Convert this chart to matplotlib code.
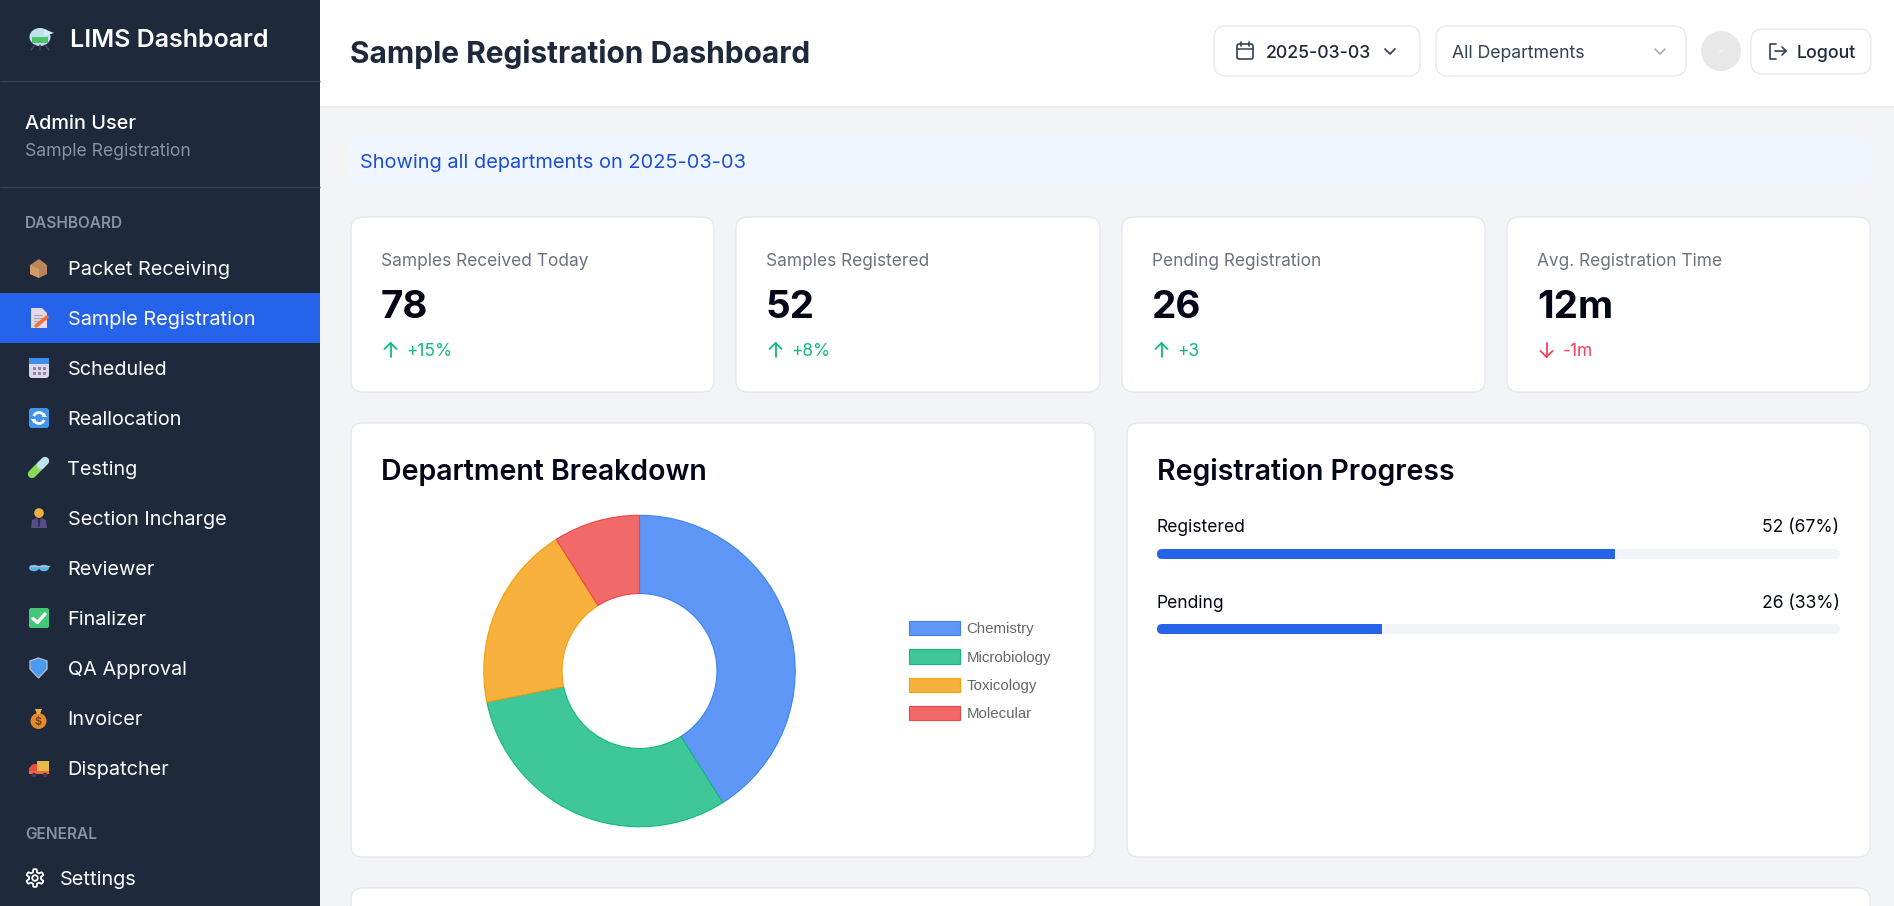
import numpy as np
import matplotlib
matplotlib.use("Agg")
import matplotlib.pyplot as plt
from matplotlib.patches import FancyBboxPatch, Rectangle, Circle, Ellipse, Polygon, Arc

W, H = 1894, 906

# data
departments = ["Chemistry", "Microbiology", "Toxicology", "Molecular"]
dept_counts = [32, 24, 15, 7]
dept_fill = ["#5f97f7", "#3fc799", "#f7b13c", "#f26969"]
dept_edge = ["#3b82f6", "#10b981", "#f59e0b", "#ef4444"]

card_labels = ["Samples Received Today", "Samples Registered", "Pending Registration", "Avg. Registration Time"]
card_values = ["78", "52", "26", "12m"]
card_deltas = ["+15%", "+8%", "+3", "-1m"]
card_up = [True, True, True, False]

progress_labels = ["Registered", "Pending"]
progress_counts = [52, 26]
progress_pct = [67, 33]

nav_items = ["Packet Receiving", "Sample Registration", "Scheduled", "Reallocation", "Testing",
             "Section Incharge", "Reviewer", "Finalizer", "QA Approval", "Invoicer", "Dispatcher"]

plt.rcParams["font.family"] = ["Inter", "DejaVu Sans"]

fig = plt.figure(figsize=(W / 100, H / 100), dpi=100, facecolor="#f3f4f6")
ax = fig.add_axes([0, 0, 1, 1])
ax.set_xlim(0, W)
ax.set_ylim(H, 0)
ax.axis("off")


def txt(x, y, s, px, color="#000000", weight="normal", ha="left"):
    return ax.text(x, y, s, fontsize=px * 0.72, color=color, weight=weight, ha=ha,
                   va="center_baseline", zorder=6)


def box(x0, y0, x1, y1, fc, ec="none", r=12, lw=0.9, z=1):
    p = FancyBboxPatch((x0, y0), x1 - x0, y1 - y0, boxstyle=f"round,pad=0,rounding_size={r}",
                       fc=fc, ec=ec, lw=lw, zorder=z)
    ax.add_patch(p)
    return p


def line(xs, ys, color, lw=1.6, z=4):
    ax.plot(xs, ys, color=color, lw=lw, solid_capstyle="round", solid_joinstyle="round", zorder=z)


def rule(x0, x1, y, color, lw=1):
    ax.plot([x0, x1], [y, y], color=color, lw=lw, solid_capstyle="butt", zorder=2)


# sidebar and header
ax.add_patch(Rectangle((0, 0), 320, H, fc="#1e293b", ec="none", zorder=1))
ax.add_patch(Rectangle((320, 0), W - 320, 106, fc="#ffffff", ec="none", zorder=1))
rule(320, W, 106.5, "#e8eaee", 1.2)
rule(0, 320, 81, "#334155")
rule(0, 320, 187, "#334155")

# logo flask
ax.add_patch(Ellipse((40, 37), 21, 18, fc="#bfe3ea", ec="none", zorder=3))
ax.add_patch(Polygon([(44, 29), (54, 33), (44, 36)], fc="#d5eef2", ec="none", zorder=3))
ax.add_patch(Rectangle((32, 37), 16, 6, fc="#4cc46a", ec="none", zorder=4))
line([35, 31], [45, 50], "#4a3f78", 1.1)
line([45, 49], [45, 50], "#4a3f78", 1.1)
line([40, 40], [45, 50], "#4a3f78", 1.1)
txt(70, 38, "LIMS Dashboard", 25, "#ffffff", "semibold")

txt(25, 122, "Admin User", 19.9, "#ffffff", "medium")
txt(25, 150, "Sample Registration", 17.6, "#8593a8")
txt(25, 222.5, "DASHBOARD", 15.4, "#8593a8", "semibold")
txt(25, 833, "GENERAL", 15.4, "#8593a8", "semibold")

ax.add_patch(Rectangle((0, 293), 320, 50, fc="#2563eb", ec="none", zorder=2))
row_y = [268 + 50 * i for i in range(len(nav_items))]
for name, y in zip(nav_items, row_y):
    txt(67.5, y, name, 19.9, "#ffffff")


# small emoji style icons, one per row
def icon_package(y):
    ax.add_patch(Polygon([(30, y - 3), (39, y - 9), (47, y - 3), (47, y + 6), (39, y + 10), (30, y + 6)], fc="#b9855a", ec="none", zorder=3))
    ax.add_patch(Polygon([(30, y - 3), (39, y + 1), (39, y + 10), (30, y + 6)], fc="#d29a68", ec="none", zorder=4))


def icon_memo(y):
    ax.add_patch(Polygon([(31, y - 10), (42, y - 10), (47, y - 5), (47, y + 10), (31, y + 10)], fc="#e4d9e6", ec="none", zorder=3))
    for k in range(3):
        line([34, 42], [y - 3 + 3 * k, y - 3 + 3 * k], "#b0a6b8", 0.9)
    line([36, 47], [y + 8, y - 1], "#f4703a", 2.6)


def icon_calendar(y):
    box(29, y - 10, 49, y + 10, "#ddd5ea", r=3, z=3)
    ax.add_patch(Rectangle((29, y - 10), 20, 6, fc="#3f8ee8", ec="none", zorder=4))
    for i in range(3):
        for j in range(2):
            ax.add_patch(Rectangle((33 + 5 * i, y - 1 + 4.5 * j), 3, 3, fc="#8d84a8", ec="none", zorder=4))


def icon_realloc(y):
    box(29, y - 10, 49, y + 10, "#3f95ea", r=3, z=3)
    ax.add_patch(Arc((39, y), 11, 11, theta1=200, theta2=340, ec="#ffffff", lw=2, zorder=4))
    ax.add_patch(Arc((39, y), 11, 11, theta1=20, theta2=160, ec="#ffffff", lw=2, zorder=4))
    ax.add_patch(Polygon([(42, y - 1), (47, y - 1), (44.5, y - 5)], fc="#ffffff", ec="none", zorder=4))
    ax.add_patch(Polygon([(31, y + 1), (36, y + 1), (33.5, y + 5)], fc="#ffffff", ec="none", zorder=4))


def icon_tube(y):
    line([32, 41], [y + 6, y - 3], "#8ad85a", 6)
    line([41, 45], [y - 3, y - 7], "#bfe0ef", 6)


def icon_man(y):
    ax.add_patch(Polygon([(31, y + 10), (32, y + 2), (39, y - 1), (46, y + 2), (47, y + 10)], fc="#584c86", ec="none", zorder=3))
    ax.add_patch(Polygon([(37.5, y), (40.5, y), (39.5, y + 9), (38.5, y + 9)], fc="#2e2850", ec="none", zorder=4))
    ax.add_patch(Circle((39, y - 5), 4.8, fc="#eeb13c", ec="none", zorder=4))


def icon_glasses(y):
    ax.add_patch(Ellipse((34, y), 10, 6.5, fc="#56b4f0", ec="none", zorder=3))
    ax.add_patch(Ellipse((44, y), 10, 6.5, fc="#56b4f0", ec="none", zorder=3))
    line([29.5, 48.5], [y - 2.5, y - 2.5], "#b9c4ce", 1)


def icon_check(y):
    box(29, y - 10, 49, y + 10, "#45c77a", r=2, z=3)
    line([33, 37.5, 45], [y + 0.5, y + 4.5, y - 4], "#ffffff", 2.4)


def icon_shield(y):
    ax.add_patch(Polygon([(30, y - 7), (38.5, y - 10), (47, y - 7), (47, y + 1), (38.5, y + 10), (30, y + 1)], fc="#4a9bf0", ec="#a9b8d0", lw=1, zorder=3))


def icon_bag(y):
    ax.add_patch(Circle((38.5, y + 3), 8, fc="#e58a2e", ec="none", zorder=3))
    ax.add_patch(Polygon([(35, y - 9), (42, y - 9), (40, y - 4), (37, y - 4)], fc="#f0a94d", ec="none", zorder=3))
    txt(38.5, y + 3, "$", 11, "#7a4313", "bold", ha="center")


def icon_truck(y):
    ax.add_patch(Rectangle((37, y - 7), 12, 13, fc="#e9b949", ec="none", zorder=3))
    ax.add_patch(Polygon([(29, y + 6), (29, y), (33, y - 4), (37, y - 4), (37, y + 6)], fc="#ea4b3c", ec="none", zorder=3))
    ax.add_patch(Rectangle((29, y + 3), 20, 3, fc="#f06b3c", ec="none", zorder=4))
    ax.add_patch(Circle((34, y + 7), 2.3, fc="#473b5a", ec="none", zorder=5))
    ax.add_patch(Circle((45, y + 7), 2.3, fc="#473b5a", ec="none", zorder=5))


icons = [icon_package, icon_memo, icon_calendar, icon_realloc, icon_tube, icon_man, icon_glasses,
         icon_check, icon_shield, icon_bag, icon_truck]
for draw_icon, y in zip(icons, row_y):
    draw_icon(y)

# settings gear
angles = np.linspace(0, 2 * np.pi, 96, endpoint=False)
gear_r = 7.4 + 1.5 * np.tanh(3 * np.cos(6 * angles))
ax.add_patch(Polygon(np.c_[35 + gear_r * np.sin(angles), 878 + gear_r * np.cos(angles)], fc="none", ec="#ffffff", lw=1.3, zorder=3))
ax.add_patch(Circle((35, 878), 2.8, fc="none", ec="#ffffff", lw=1.3, zorder=3))
txt(60, 878, "Settings", 19.9, "#ffffff")

# header
txt(350, 51, "Sample Registration Dashboard", 29.9, "#1e293b", "bold")
box(1214, 26, 1420, 76, "#ffffff", "#e2e8f0")
box(1436, 26, 1686, 76, "#ffffff", "#e2e8f0")
box(1751, 29, 1871, 74, "#ffffff", "#e2e8f0")
ax.add_patch(Circle((1721, 51), 20, fc="#e8e8e8", ec="none", zorder=2))
ax.add_patch(Circle((1721, 51), 2, fc="#f0f0f0", ec="none", zorder=3))
txt(1265.5, 51.5, "2025-03-03", 17.6, "#1e293b", "medium")
txt(1452, 51.5, "All Departments", 17.6, "#334155")
txt(1797, 51.5, "Logout", 17.8, "#1e293b", "medium")
# calendar glyph
box(1237, 44, 1253, 59, "none", "#334155", r=2, lw=1.2, z=4)
line([1237, 1253], [49, 49], "#334155", 1.1)
line([1241, 1241], [42, 46], "#334155", 1.2)
line([1249, 1249], [42, 46], "#334155", 1.2)
line([1385, 1390, 1395], [49, 54, 49], "#334155", 1.25)
line([1655, 1660, 1665], [49, 54, 49], "#a0a6b0", 1.1)
line([1776, 1770, 1770, 1776], [44, 44, 59, 59], "#334155", 1.2)
line([1775, 1786], [51, 51], "#334155", 1.2)
line([1782, 1786, 1782], [47, 51, 55], "#334155", 1.2)

# notice
box(350, 136, 1871, 185, "#eff6ff", r=6)
txt(360, 161, "Showing all departments on 2025-03-03", 20, "#1d4ed8")

# stat cards
card_x = [(351, 714), (736, 1100), (1122, 1485), (1507, 1870)]
for (x0, x1), lab, val, dlt, up in zip(card_x, card_labels, card_values, card_deltas, card_up):
    box(x0, 217, x1, 392, "#ffffff", "#e2e8f0")
    txt(x0 + 30, 260, lab, 17.3, "#6b7280")
    txt(x0 + 30, 304, val, 38.5, "#020617", "bold")
    col = "#10b981" if up else "#f43f5e"
    ax_x = x0 + 39.5
    if up:
        line([ax_x, ax_x], [357, 343], col, 1.3)
        line([ax_x - 6, ax_x, ax_x + 6], [349, 343, 349], col, 1.3)
    else:
        line([ax_x, ax_x], [343, 357], col, 1.3)
        line([ax_x - 6, ax_x, ax_x + 6], [351, 357, 351], col, 1.3)
    txt(x0 + 55.5, 350, dlt, 17.3, col)

# panels
box(351, 423, 1095, 857, "#ffffff", "#e2e8f0")
box(1127, 423, 1870, 857, "#ffffff", "#e2e8f0")
box(351, 888, 1870, 960, "#ffffff", "#e2e8f0")
txt(381, 469.5, "Department Breakdown", 28.5, "#020617", "semibold")
txt(1157, 469.5, "Registration Progress", 28.5, "#020617", "semibold")

# donut
pie_ax = fig.add_axes([483 / W, 1 - 828 / H, 313 / W, 314 / H])
wedges, _ = pie_ax.pie(dept_counts, colors=dept_fill, startangle=90, counterclock=False, radius=0.995,
                       wedgeprops=dict(width=0.5, linewidth=0.8))
for w, ec in zip(wedges, dept_edge):
    w.set_edgecolor(ec)
pie_ax.set_xlim(-1, 1)
pie_ax.set_ylim(-1, 1)
leg = fig.legend(wedges, departments, loc="upper left", bbox_to_anchor=(909 / W, 1 - 621 / H), frameon=False,
                 prop={"family": "Liberation Sans", "size": 10.85}, labelcolor="#666666",
                 borderpad=0, borderaxespad=0, handlelength=3.4, handleheight=1.1, handletextpad=0.42,
                 labelspacing=0.86)

# progress bars
bar_y = [(549, 559), (624, 634)]
label_y = [526, 601.5]
for lab, cnt, pct, (y0, y1), ly in zip(progress_labels, progress_counts, progress_pct, bar_y, label_y):
    txt(1157, ly, lab, 17.5, "#020617")
    txt(1839.5, ly, f"{cnt} ({pct}%)", 17.5, "#020617", ha="right")
    bar_ax = fig.add_axes([1157 / W, 1 - y1 / H, 683 / W, (y1 - y0) / H])
    bar_ax.set_xlim(0, 100)
    bar_ax.set_ylim(0, 1)
    bar_ax.axis("off")
    clip = FancyBboxPatch((1157, y0), 683, y1 - y0, boxstyle="round,pad=0,rounding_size=5", transform=ax.transData)
    for v, c in ((100, "#f1f5f9"), (pct, "#2563eb")):
        b = bar_ax.barh([0.5], [v], height=1, color=c)[0]
        b.set_clip_path(clip)

fig.savefig("out.png", dpi=100, facecolor=fig.get_facecolor())
